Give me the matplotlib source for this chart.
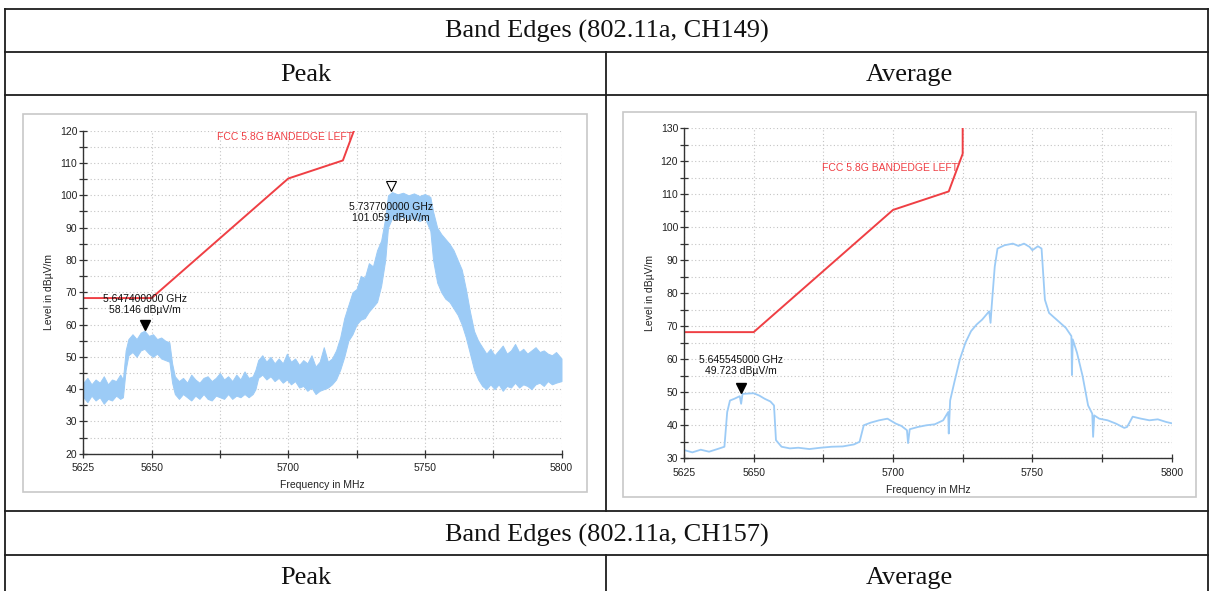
import matplotlib
matplotlib.use("Agg")
import matplotlib.pyplot as plt
from matplotlib.lines import Line2D
from matplotlib.patches import Rectangle
from matplotlib.ticker import MultipleLocator, FixedLocator, FixedFormatter

W, H = 1211, 591

# ---- data ----
# FCC 5.8G band edge mask (MHz, dBuV/m)
mask_f = [5625, 5650, 5700, 5720, 5725, 5725]
mask_lvl = [68.2, 68.2, 105.2, 110.8, 122.2, 140.0]
mask_label = "FCC 5.8G BANDEDGE LEFT"

# Peak trace, noise band envelope (low / high)
peak_f = [5625, 5626.5, 5628, 5629.5, 5631, 5632.5, 5634, 5635.5, 5637, 5638.5, 5639.5,
          5640.5, 5641.5, 5643, 5644.5, 5646, 5647.4, 5649, 5650.5, 5652, 5653.5, 5655, 5656.5,
          5657.5, 5658.5, 5660, 5661.5, 5663, 5664.5, 5666, 5667.5, 5669, 5670.5, 5672,
          5673.5, 5675, 5676.5, 5678, 5679.5, 5681, 5682.5, 5684, 5685.5, 5687,
          5688, 5689, 5690.5, 5692, 5693.5, 5695, 5696.5, 5698, 5699.5, 5701, 5702.5,
          5704, 5705.5, 5707, 5708.5, 5710, 5711.5, 5713, 5714.5, 5716,
          5717.5, 5719, 5720.5, 5722, 5723.5, 5725, 5726.5, 5728, 5729.5, 5731, 5732.5,
          5734, 5735.5,
          5736.5, 5738, 5740, 5742, 5744, 5746, 5748, 5750, 5752,
          5753, 5754.5, 5756, 5757.5, 5759, 5760.5, 5762, 5763.5, 5765, 5766.5, 5768, 5769.5,
          5771, 5772.5, 5774, 5775.5, 5777, 5778.5, 5780, 5781.5, 5783, 5784.5, 5786,
          5787.5, 5789, 5790.5, 5792, 5793.5, 5795, 5796.5, 5798, 5800]
peak_low = [37.5, 36, 38, 36.5, 37.5, 35.5, 37, 36.5, 38, 37, 37.5,
            46, 50.5, 51.5, 50, 52, 52.5, 51, 50, 51, 49.5, 49, 48.5,
            42, 38.5, 37, 38.5, 37.5, 36.5, 38, 37, 38.5, 37, 36.5,
            38, 37.5, 37, 38.5, 37, 38, 37.5, 38.5, 37.5, 38.5,
            40, 43.5, 44.5, 43, 44, 42.5, 43.5, 42, 43, 41.5, 42.5,
            40.5, 41, 39.5, 40.5, 38.5, 39.5, 40, 40.5, 41.5,
            43, 46, 50, 55, 57, 60, 61.5, 62, 64, 65.5, 67,
            72, 80,
            90, 93, 92.5, 93.5, 92.5, 93, 92, 93, 89,
            80, 73, 70, 68, 67, 65, 63, 60, 56, 51, 46, 43,
            41, 40, 41.5, 40, 41.5, 39.5, 41, 40.5, 42, 40.5, 41.5,
            41, 40, 41.5, 42, 41, 42.5, 41.5, 42, 42.5]
peak_high = [42, 43.5, 41.5, 43, 42, 44, 41.5, 43, 42.5, 44.5, 43,
             52, 55.5, 57, 55.5, 57.5, 58.1, 56.5, 57, 55.5, 56, 55, 54.5,
             48, 44, 42.5, 43.5, 42, 44.5, 43, 42, 43.5, 44, 42.5,
             43.5, 45, 43, 44, 42.5, 44.5, 43, 45.5, 43.5, 44,
             46, 49, 50.5, 48.5, 50, 48, 49.5, 48, 51, 48.5, 49.5,
             47.5, 49, 48, 50.5, 47, 48.5, 53, 48.5, 49.5,
             52, 56, 62, 66, 70, 71, 75, 74.5, 79, 78, 83,
             86, 93,
             100, 101, 100.3, 100.8, 100, 100.6, 99.8, 100.4, 99.5,
             95, 90, 88, 86.5, 85, 83, 80, 77, 71, 64, 58, 55,
             53, 51, 52.5, 50.5, 52, 53.5, 51, 52, 54, 51.5, 52.5,
             51, 52, 53, 51.5, 52, 51, 50.5, 51.5, 49.5]

# Average trace
avg_f = [5625, 5628, 5631, 5634, 5637, 5639.5, 5640.5, 5641.5, 5643, 5645,
         5645.5, 5646, 5648, 5650, 5652, 5654, 5656, 5657.3, 5658, 5660,
         5663, 5666, 5670, 5674, 5678, 5682, 5686, 5688, 5689.5, 5692,
         5695, 5698, 5701, 5703, 5705, 5705.4, 5706, 5709, 5712, 5715,
         5718, 5719.8, 5720, 5720.5, 5722, 5724, 5726, 5728, 5730, 5732,
         5734.5, 5735, 5735.4, 5736.5, 5737.5, 5740, 5743, 5745, 5747, 5749,
         5750, 5752, 5753.3, 5754.5, 5756, 5758, 5760, 5762, 5764, 5764.2,
         5764.5, 5766, 5768, 5770, 5771.5, 5771.8, 5772.2, 5774, 5777, 5780,
         5783, 5784, 5786, 5789, 5792, 5795, 5798, 5800]
avg_lvl = [32.5, 31.8, 32.6, 32.0, 32.8, 33.5, 44, 47.5, 48, 48.8,
           46.5, 49.5, 49.6, 49.7, 49, 48, 47.2, 46, 35.5, 33.5,
           33, 33.2, 32.8, 33.2, 33.5, 33.6, 34.2, 35, 40, 40.8,
           41.5, 42, 40.5, 39.8, 38.5, 34.6, 38.8, 39.5, 40, 40.3,
           41.5, 44, 37.5, 47.5, 53, 60, 65, 68.5, 70.5, 72,
           74.5, 71, 76, 88, 93.5, 94.5, 95, 94.3, 95, 94,
           93, 94.2, 93.5, 78, 74, 72.5, 71, 69.5, 67, 55.2,
           66, 62, 55, 46, 43.5, 36.5, 43, 42, 41.5, 40.5,
           39.2, 39.5, 42.6, 42, 41.5, 41.8, 41, 40.6]

# markers: (freq MHz, level, text)
peak_markers = [(5647.4, 58.146, "5.647400000 GHz\n58.146 dBµV/m"),
                (5737.7, 101.059, "5.737700000 GHz\n101.059 dBµV/m")]
avg_markers = [(5645.545, 49.723, "5.645545000 GHz\n49.723 dBµV/m")]

xticks = [5625, 5650, 5675, 5700, 5725, 5750, 5775, 5800]
xtick_labels = ["5625", "5650", "", "5700", "", "5750", "", "5800"]

TRACE = "#9ccbf6"
RED = "#ef3f44"
SANS = ["Liberation Sans", "DejaVu Sans"]
SERIF = ["Liberation Serif", "DejaVu Serif"]


def fx(px):
    return px / W


def fy(py):
    return 1 - py / H


fig = plt.figure(figsize=(W / 100, H / 100), dpi=100)
fig.patch.set_facecolor("white")

# ---- table ----
def hline(y, x0=5, x1=1208):
    fig.add_artist(Line2D([fx(x0), fx(x1)], [fy(y), fy(y)], transform=fig.transFigure,
                          color="#1e1e1e", lw=1.3))


def vline(x, y0, y1):
    fig.add_artist(Line2D([fx(x), fx(x)], [fy(y0), fy(y1)], transform=fig.transFigure,
                          color="#1e1e1e", lw=1.3))


for yy in [8.5, 52, 95, 511, 555]:
    hline(yy)
vline(5, 8.5, 591)
vline(1208, 8.5, 591)
vline(605.5, 52, 511)
vline(605.5, 555, 591)

cell_font = dict(family=SERIF, size=19, ha="center", va="center", color="#111111")
fig.text(fx(607), fy(31.5), "Band Edges (802.11a, CH149)", **cell_font)
fig.text(fx(306), fy(75), "Peak", **cell_font)
fig.text(fx(909), fy(75), "Average", **cell_font)
fig.text(fx(607), fy(535), "Band Edges (802.11a, CH157)", **cell_font)
fig.text(fx(306), fy(578), "Peak", **cell_font)
fig.text(fx(909), fy(578), "Average", **cell_font)

# chart frames
for (x0, y0, x1, y1) in [(23.3, 114, 586.7, 492), (623, 111.7, 1196, 496.7)]:
    fig.add_artist(Rectangle((fx(x0), fy(y1)), fx(x1) - fx(x0), fy(y0) - fy(y1),
                             transform=fig.transFigure, fill=False,
                             edgecolor="#c8c8c8", lw=1.2))


def style_axes(ax, ylo, yhi):
    ax.set_xlim(5625, 5800)
    ax.set_ylim(ylo, yhi)
    for s in ["top", "right"]:
        ax.spines[s].set_visible(False)
    for s in ["left", "bottom"]:
        ax.spines[s].set_color("#333333")
        ax.spines[s].set_linewidth(1.0)
    ax.xaxis.set_major_locator(FixedLocator(xticks))
    ax.xaxis.set_major_formatter(FixedFormatter(xtick_labels))
    ax.yaxis.set_major_locator(MultipleLocator(10))
    ax.yaxis.set_minor_locator(MultipleLocator(5))
    ax.tick_params(which="both", direction="inout", length=5.5, width=0.9,
                   color="#333333", labelsize=7.5, labelcolor="#222222", pad=1.5)
    ax.tick_params(axis="x", pad=4)
    for lab in ax.get_xticklabels() + ax.get_yticklabels():
        lab.set_family(SANS)
    ax.grid(True, which="both", color="#c4c4c4", lw=0.8, ls=(0, (1, 2.2)))
    ax.set_axisbelow(True)
    ax.set_xlabel("Frequency in MHz", family=SANS, size=7.5, color="#222222", labelpad=5)
    ax.set_ylabel("Level in dBµV/m", family=SANS, size=7.5, color="#222222", labelpad=4)


# ---- Peak plot ----
ax1 = fig.add_axes([fx(83.3), fy(453.8), fx(561.5) - fx(83.3), fy(130.7) - fy(453.8)])
style_axes(ax1, 20, 120)
ax1.fill_between(peak_f, peak_low, peak_high, color=TRACE, lw=0.7, edgecolor=TRACE)
ax1.plot(mask_f, mask_lvl, color=RED, lw=1.4)
ax1.text(5674, 118, mask_label, color=RED, family=SANS, size=7.5, ha="left", va="center")
f0, v0, t0 = peak_markers[0]
ax1.plot(f0, v0 + 1.7, marker="v", color="black", ms=6.5, ls="none")
ax1.annotate(t0, (f0, v0), xytext=(0, 11), textcoords="offset points", ha="center",
             va="bottom", family=SANS, size=7.5, color="#111111", linespacing=1.1)
f1, v1, t1 = peak_markers[1]
ax1.plot(f1, v1 + 1.8, marker="v", mfc="white", mec="black", mew=0.8, ms=6.5, ls="none")
ax1.annotate(t1, (f1, v1), xytext=(0, -7.5), textcoords="offset points", ha="center",
             va="top", family=SANS, size=7.5, color="#111111", linespacing=1.1)

# ---- Average plot ----
ax2 = fig.add_axes([fx(684), fy(458.3), fx(1171.7) - fx(684), fy(128) - fy(458.3)])
style_axes(ax2, 30, 130)
ax2.plot(avg_f, avg_lvl, color=TRACE, lw=1.3)
ax2.plot(mask_f, mask_lvl, color=RED, lw=1.4)
ax2.text(5674.5, 117.9, mask_label, color=RED, family=SANS, size=7.5, ha="left", va="center")
f2, v2, t2 = avg_markers[0]
ax2.plot(f2, v2 + 1.5, marker="v", color="black", ms=6.5, ls="none")
ax2.annotate(t2, (f2, v2), xytext=(0, 12.5), textcoords="offset points", ha="center",
             va="bottom", family=SANS, size=7.5, color="#111111", linespacing=1.1)

fig.savefig("out.png", dpi=100)
plt.close()
